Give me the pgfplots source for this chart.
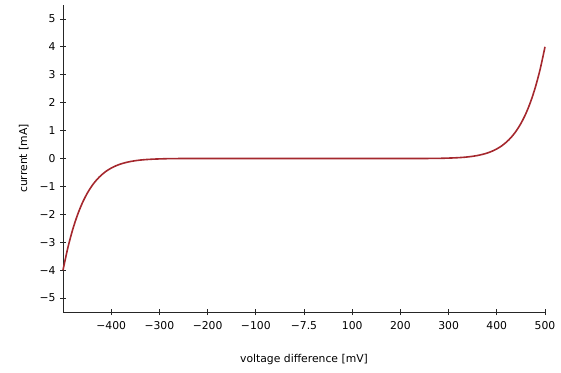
\documentclass[border=0pt]{standalone}
\usepackage{pgfplots}
\pgfplotsset{compat=1.18}
\usepackage{fontspec}
\setmainfont{DejaVu Sans}
\definecolor{curve}{RGB}{165,40,46}
\begin{document}
\begin{tikzpicture}
\useasboundingbox (0,0) rectangle (561pt,372pt);
\begin{axis}[
  at={(63pt,60pt)}, anchor=south west,
  scale only axis, width=482pt, height=307pt,
  xmin=-500, xmax=500, ymin=-5.5, ymax=5.5,
  axis x line*=bottom, axis y line*=left,
  axis line style={black!85, line width=0.8pt, -},
  tick align=center, major tick length=6pt,
  tick style={black!85, line width=0.8pt},
  xtick={-400,-300,-200,-100,0,100,200,300,400,500},
  xticklabels={−400,−300,−200,−100,−7.5,100,200,300,400,500},
  ytick={-5,-4,-3,-2,-1,0,1,2,3,4,5},
  yticklabels={−5,−4,−3,−2,−1,0,1,2,3,4,5},
  ticklabel style={font=\fontsize{10.8}{12}\selectfont},
  xticklabel style={yshift=-3pt},
  yticklabel style={xshift=-1pt},
  xlabel={voltage difference [mV]},
  ylabel={current [mA]},
  label style={font=\fontsize{10.8}{12}\selectfont},
  xlabel style={at={(axis description cs:0.5,0)}, anchor=north, yshift=-39pt},
  ylabel style={at={(axis description cs:0,0.5)}, anchor=south, yshift=31pt},
  clip=false,
]
\addplot[curve, line width=1.6pt, smooth] table {
x y
-500 -4.000
-490 -3.203
-480 -2.553
-470 -2.025
-460 -1.598
-450 -1.255
-440 -0.980
-430 -0.761
-420 -0.588
-410 -0.451
-400 -0.344
-390 -0.260
-380 -0.195
-370 -0.146
-360 -0.108
-350 -0.079
-340 -0.057
-330 -0.041
-320 -0.030
-310 -0.021
-300 -0.015
-280 -0.005
-250 -0.001
-200 0
0 0
200 0
250 0.001
280 0.005
300 0.015
310 0.021
320 0.030
330 0.041
340 0.057
350 0.079
360 0.108
370 0.146
380 0.195
390 0.260
400 0.344
410 0.451
420 0.588
430 0.761
440 0.980
450 1.255
460 1.598
470 2.025
480 2.553
490 3.203
500 4.000
};
\end{axis}
\end{tikzpicture}
\end{document}
